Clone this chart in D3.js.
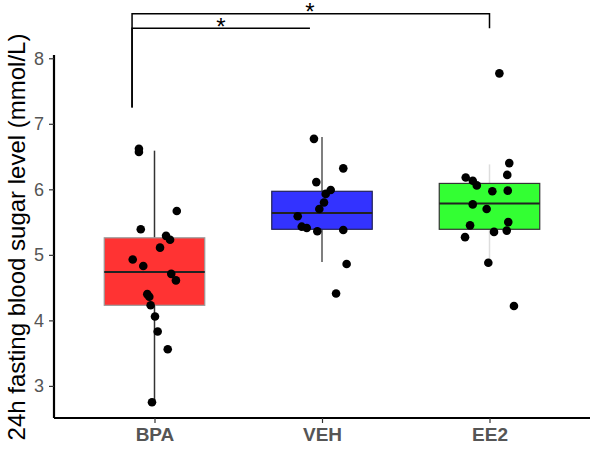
<!DOCTYPE html>
<html>
<head>
<meta charset="utf-8">
<script src="https://cdn.jsdelivr.net/npm/d3@7"></script>
<style>
  body { margin: 0; background: #fff; }
  svg { font-family: "Liberation Sans", Arial, sans-serif; }
</style>
</head>
<body>
<div id="chart"></div>
<script>
// Groups
const groups = ["BPA", "VEH", "EE2"];
const fills = ["#ff3333", "#3333ff", "#33ff33"];
const whiskerColors = ["#333333", "#555555", "#dddddd"];
const outlineColors = ["#999999", "#222255", "#333333"];

// Box statistics: [lower whisker, q1, median, q3, upper whisker]
const boxStats = [
    [2.75, 4.23, 4.74, 5.26, 6.59],
    [4.89, 5.39, 5.64, 5.97, 6.80],
    [4.88, 5.39, 5.785, 6.09, 6.38]
];

// Points: values and horizontal jitter (in group units)
const bpaValues = [6.62, 6.57, 5.67, 5.39, 5.29, 5.23, 5.11, 4.93, 4.83, 4.71, 4.61, 4.40, 4.36, 4.23, 4.06, 3.83, 3.56, 2.75];
const bpaJitter = [-0.093, -0.093, 0.133, -0.082, 0.069, 0.093, 0.033, -0.13, -0.067, 0.10, 0.128, -0.043, -0.031, -0.023, 0.003, 0.019, 0.079, -0.015];
const vehValues = [6.77, 6.32, 6.11, 5.99, 5.93, 5.80, 5.70, 5.59, 5.43, 5.41, 5.36, 5.38, 4.86, 4.41];
const vehJitter = [-0.048, 0.127, -0.034, 0.052, 0.022, 0.012, -0.016, -0.145, -0.121, -0.091, -0.028, 0.127, 0.147, 0.084];
const ee2Values = [7.77, 6.40, 6.22, 6.18, 6.13, 6.06, 5.97, 5.98, 5.77, 5.70, 5.45, 5.50, 5.37, 5.35, 5.27, 4.88, 4.22];
const ee2Jitter = [0.059, 0.118, 0.106, -0.142, -0.100, -0.076, 0.017, 0.109, -0.100, -0.017, -0.116, 0.112, 0.103, 0.027, -0.146, -0.007, 0.146];

const yTicks = [3, 4, 5, 6, 7, 8];

// Significance brackets (x in group units, y in data units)
const brackets = [
    { x1: 0.866, x2: 1.928, y: 8.457, legLeft: 7.25, legRight: null, label: "*", labelX: 1.397 },
    { x1: 0.866, x2: 3.0, y: 8.68, legLeft: 7.25, legRight: 8.457, label: "*", labelX: 1.928 }
];

const width = 590, height = 454;
const svg = d3.select("#chart").append("svg")
    .attr("width", width)
    .attr("height", height);

const x = d3.scaleLinear().domain([0.4, 3.6]).range([54, 590]);
const y = d3.scaleLinear().domain([2.51, 8.05]).range([418, 55]);

// Boxes
groups.forEach((g, i) => {
    const pos = i + 1;
    const [lo, q1, med, q3, hi] = boxStats[i];
    const gg = svg.append("g");
    gg.append("line")
        .attr("x1", x(pos)).attr("x2", x(pos))
        .attr("y1", y(hi)).attr("y2", y(q3))
        .attr("stroke", whiskerColors[i]).attr("stroke-width", 1.5);
    gg.append("line")
        .attr("x1", x(pos)).attr("x2", x(pos))
        .attr("y1", y(q1)).attr("y2", y(lo))
        .attr("stroke", whiskerColors[i]).attr("stroke-width", 1.5);
    gg.append("rect")
        .attr("x", x(pos - 0.3))
        .attr("width", x(pos + 0.3) - x(pos - 0.3))
        .attr("y", y(q3))
        .attr("height", y(q1) - y(q3))
        .attr("fill", fills[i])
        .attr("stroke", outlineColors[i])
        .attr("stroke-width", 1.2);
    gg.append("line")
        .attr("x1", x(pos - 0.3)).attr("x2", x(pos + 0.3))
        .attr("y1", y(med)).attr("y2", y(med))
        .attr("stroke", "#222").attr("stroke-width", 2);
});

// Points
const points = [];
[[bpaValues, bpaJitter], [vehValues, vehJitter], [ee2Values, ee2Jitter]].forEach(([vals, jit], i) => {
    vals.forEach((v, k) => points.push({ pos: i + 1 + jit[k], v }));
});
svg.append("g").selectAll("circle")
    .data(points)
    .enter()
    .append("circle")
    .attr("cx", d => x(d.pos))
    .attr("cy", d => y(d.v))
    .attr("r", 4.3)
    .attr("fill", "#000");

// Axes
const yAxis = svg.append("g")
    .attr("transform", `translate(${x(0.4)},0)`)
    .call(d3.axisLeft(y).tickValues(yTicks).tickSize(5).tickPadding(5).tickFormat(d3.format("d")));
const xAxis = svg.append("g")
    .attr("transform", `translate(0,${y(2.51)})`)
    .call(d3.axisBottom(x).tickValues([1, 2, 3]).tickSize(5).tickPadding(5).tickFormat(d => groups[d - 1]));

[yAxis, xAxis].forEach(a => {
    a.select(".domain").attr("stroke", "#000").attr("stroke-width", 2.2);
    a.selectAll(".tick line").attr("stroke", "#333").attr("stroke-width", 1.2);
});
// axis lines without end ticks
yAxis.select(".domain").attr("d", `M0,${y(8.05)}V${y(2.51)}`);
xAxis.select(".domain").attr("d", `M${x(0.4)},0H${x(3.6)}`);

yAxis.selectAll(".tick text")
    .attr("font-size", 18)
    .attr("fill", "#555")
    .attr("font-family", "Liberation Sans, Arial, sans-serif");
xAxis.selectAll(".tick text")
    .attr("font-size", 19)
    .attr("font-weight", "bold")
    .attr("fill", "#555")
    .attr("font-family", "Liberation Sans, Arial, sans-serif");

// Y axis title
svg.append("text")
    .attr("text-anchor", "middle")
    .attr("transform", `translate(25,237) rotate(-90)`)
    .attr("font-size", 24)
    .attr("fill", "#000")
    .text("24h fasting blood sugar level (mmol/L)");

// Brackets
brackets.forEach(b => {
    let d = `M${x(b.x1)},${y(b.legLeft)}V${y(b.y)}H${x(b.x2)}`;
    if (b.legRight !== null) d += `V${y(b.legRight)}`;
    svg.append("path")
        .attr("d", d)
        .attr("fill", "none")
        .attr("stroke", "#000")
        .attr("stroke-width", 1.5);
    svg.append("text")
        .attr("x", x(b.labelX))
        .attr("y", y(b.y) + 6.5)
        .attr("text-anchor", "middle")
        .attr("font-size", 24)
        .attr("fill", "#000")
        .text(b.label);
});
</script>
</body>
</html>
